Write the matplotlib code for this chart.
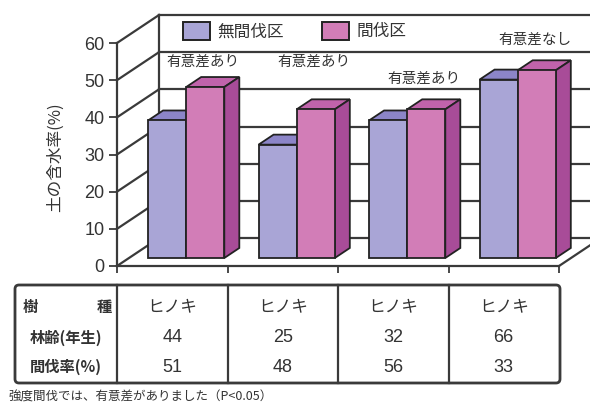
import matplotlib.pyplot as plt
from matplotlib.patches import Patch, FancyBboxPatch

plt.rcParams['font.family'] = ['Noto Sans CJK JP', 'DejaVu Sans']

# data
series_names = ['無間伐区', '間伐区']
unthinned = [37, 30.5, 37, 48]
thinned = [46, 40, 40, 50.5]
signif = ['有意差あり', '有意差あり', '有意差あり', '有意差なし']
signif_y = [55, 55, 50.5, 61]
species = ['ヒノキ', 'ヒノキ', 'ヒノキ', 'ヒノキ']
stand_age = [44, 25, 32, 66]
thin_rate = [51, 48, 56, 33]
yticks = [0, 10, 20, 30, 40, 50, 60]

c_purple, c_purple_top = '#A9A5D6', '#8C85C8'
c_pink, c_pink_top, c_pink_side = '#D27DB7', '#C063AB', '#A84C98'
line_c = '#3a3a3a'
text_c = '#333333'
num_font = ['Liberation Sans', 'Noto Sans CJK JP']

W, H = 590, 408
fig = plt.figure(figsize=(W / 100, H / 100), dpi=100)


def px_axes(l, t, r, b):
    return fig.add_axes([l / W, 1 - b / H, (r - l) / W, (b - t) / H])


# front plane of the 3D box
ax = px_axes(117, 43, 559, 266)
ax.set_xlim(0, 4)
ax.set_ylim(0, 60)
sx, sy = 4 / 442, 60 / 223
wall = (42 * sx, 28 * sy)      # depth of the whole box
off = (12 * sx, 8 * sy)        # where the bars stand
depth = (15 * sx, 10 * sy)     # depth of one bar

# walls and grid
for v in yticks:
    ax.plot([wall[0], 4 + wall[0]], [v + wall[1], v + wall[1]],
            color=line_c, lw=1.6, clip_on=False, zorder=1)
    ax.plot([0, wall[0]], [v, v + wall[1]], color=line_c, lw=1.6,
            clip_on=False, zorder=1)
ax.plot([wall[0], wall[0]], [wall[1], 60 + wall[1]], color=line_c, lw=1.6,
        clip_on=False, zorder=1)
ax.plot([4, 4 + wall[0]], [0, wall[1]], color=line_c, lw=1.6,
        clip_on=False, zorder=1)

# bars with top and side faces
w = 0.345
for i in range(4):
    for xc, val, front, top, side in [
            (i + 0.345, unthinned[i], c_purple, c_purple_top, None),
            (i + 0.69, thinned[i], c_pink, c_pink_top, c_pink_side)]:
        x0 = xc - w / 2 + off[0]
        x1 = xc + w / 2 + off[0]
        b, t = off[1], off[1] + val
        ax.bar(x0, val, width=w, bottom=b, align='edge', color=front,
               edgecolor='#222222', lw=1.3, zorder=3, clip_on=False)
        ax.fill([x0, x1, x1 + depth[0], x0 + depth[0]],
                [t, t, t + depth[1], t + depth[1]], facecolor=top,
                edgecolor='#222222', lw=1.3, zorder=2.5, clip_on=False)
        if side:
            ax.fill([x1, x1 + depth[0], x1 + depth[0], x1],
                    [b, b + depth[1], t + depth[1], t], facecolor=side,
                    edgecolor='#222222', lw=1.3, zorder=2.5, clip_on=False)
    ax.text(i + 0.78, signif_y[i], signif[i], ha='center', va='center',
            fontsize=10.5, color=text_c, zorder=4)

for s in ['top', 'right']:
    ax.spines[s].set_visible(False)
for s in ['left', 'bottom']:
    ax.spines[s].set_color(line_c)
    ax.spines[s].set_linewidth(1.6)
ax.set_yticks(yticks)
ax.set_yticklabels([str(v) for v in yticks], family=num_font)
ax.set_xticks(range(5))
ax.set_xticklabels([])
ax.tick_params(axis='y', length=6, width=1.3, color=line_c, labelsize=13,
               labelcolor=text_c, pad=3)
ax.tick_params(axis='x', length=5, width=1.3, color=line_c)
ax.patch.set_alpha(0)

handles = [Patch(facecolor=c_purple, edgecolor='#222222', lw=1.4),
           Patch(facecolor=c_pink, edgecolor='#222222', lw=1.4)]
ax.legend(handles, series_names, ncol=2, loc='upper left',
          bbox_to_anchor=(0.149, 1.094), frameon=False, fontsize=12,
          handlelength=1.6, handleheight=1.25, handletextpad=0.45,
          columnspacing=2.3, borderpad=0, borderaxespad=0,
          labelcolor=text_c)

fig.text(55 / W, 1 - 157 / H, '土の含水率(%)', rotation=90, fontsize=12,
         ha='center', va='center', color=text_c)

# table under the chart
tab = px_axes(15, 285, 560, 383)
tab.set_xlim(0, 545)
tab.set_ylim(98, 0)
tab.axis('off')
tab.add_patch(FancyBboxPatch((0, 0), 545, 98,
                             boxstyle='round,pad=0,rounding_size=4',
                             fill=False, edgecolor=line_c, lw=2,
                             clip_on=False))
col_x = [102 + 110.5 * k for k in range(4)]
for xv in col_x:
    tab.plot([xv, xv], [0, 98], color=line_c, lw=1.6, clip_on=False)

rows_y = [22, 53, 82]
tab.text(8, rows_y[0], '樹', ha='left', va='center', fontsize=11,
         fontweight='bold', color=text_c)
tab.text(97, rows_y[0], '種', ha='right', va='center', fontsize=11,
         fontweight='bold', color=text_c)
tab.text(51, rows_y[1], '林齢(年生)', ha='center', va='center',
         fontsize=11, fontweight='bold', color=text_c)
tab.text(51, rows_y[2], '間伐率(%)', ha='center', va='center',
         fontsize=11, fontweight='bold', color=text_c)
for i in range(4):
    cx = col_x[0] + 110.5 * (i + 0.5)
    tab.text(cx, rows_y[0], species[i], ha='center', va='center',
             fontsize=12, color=text_c)
    tab.text(cx, rows_y[1], str(stand_age[i]), ha='center',
             va='center', fontsize=13, color=text_c, family=num_font)
    tab.text(cx, rows_y[2], str(thin_rate[i]), ha='center',
             va='center', fontsize=13, color=text_c, family=num_font)

fig.text(8 / W, 1 - 397 / H, '強度間伐では、有意差がありました（P<0.05）',
         fontsize=9, ha='left', va='center', color=text_c)

fig.savefig('out.png', dpi=100)
